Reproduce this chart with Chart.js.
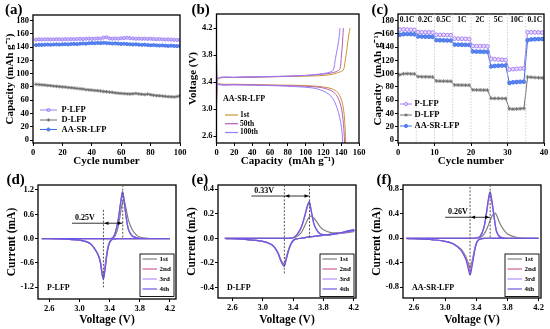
<!DOCTYPE html>
<html><head><meta charset="utf-8">
<script src="https://cdn.jsdelivr.net/npm/chart.js@4.4.0/dist/chart.umd.min.js"></script>
<style>
html,body{margin:0;padding:0;background:#fff;}
#wrap{position:relative;width:550px;height:329px;overflow:hidden;background:#fff;}
#wrap canvas{position:absolute;left:0;top:0;}
</style></head>
<body><div id="wrap">
<canvas id="ca" width="550" height="329"></canvas>
<canvas id="cb" width="550" height="329"></canvas>
<canvas id="cc" width="550" height="329"></canvas>
<canvas id="cd" width="550" height="329"></canvas>
<canvas id="ce" width="550" height="329"></canvas>
<canvas id="cf" width="550" height="329"></canvas>
</div>
<script>
// ---------------- DATA ----------------
const seriesNames = ['P-LFP', 'D-LFP', 'AA-SR-LFP'];
const cvCycleNames = ['1st', '2nd', '3rd', '4th'];
const bCycleNames = ['1st', '50th', '100th'];
const rateLabels = ['0.1C', '0.2C', '0.5C', '1C', '2C', '5C', '10C', '0.1C'];

// (a) cycling at fixed rate
const cyclesA = [2,4,6,8,10,12,14,16,18,20,22,24,26,28,30,32,34,36,38,40,42,44,46,48,50,52,54,56,58,60,62,64,66,68,70,72,74,76,78,80,82,84,86,88,90,92,94,96,98,100];
const aP = [151.5,151.8,151.6,151.9,152.0,151.7,151.9,152.1,152.0,151.8,152.2,152.0,152.3,152.1,152.4,152.6,152.3,152.8,153.0,152.6,152.9,153.2,153.0,154.5,155.0,153.4,152.9,153.2,153.0,153.5,153.8,154.3,153.6,153.2,152.8,153.0,152.7,152.9,152.5,152.8,152.4,152.1,152.3,151.9,151.6,151.8,151.4,151.2,151.0,150.8];
const aD = [84.0,83.6,83.2,82.9,82.3,82.0,81.4,81.0,80.6,80.1,79.8,79.2,78.9,78.3,77.8,77.4,76.9,76.0,75.6,75.3,74.7,74.4,73.9,73.2,72.9,72.3,71.8,71.2,70.6,70.3,70.0,69.6,69.4,69.8,70.2,69.5,69.0,68.6,69.2,68.4,67.6,67.0,66.8,66.3,65.8,65.4,65.2,64.9,65.6,66.6];
const aAA = [143.2,143.6,143.4,143.8,144.0,143.7,144.1,144.3,144.0,144.4,144.6,144.3,144.8,145.0,144.7,145.3,145.6,145.4,146.0,146.3,146.0,146.5,146.2,146.6,146.3,146.0,145.6,145.8,145.3,145.0,145.2,144.7,144.5,144.2,144.4,143.9,143.6,143.8,143.3,143.0,143.2,142.8,142.5,142.7,142.3,142.0,142.3,141.9,141.7,142.0];
const aXTicks = [0,20,40,60,80,100];
const aYTicks = [0,20,40,60,80,100,120,140,160,180];

// (b) charge / discharge profiles of AA-SR-LFP  [capacity, voltage]
const bCharge1 = [[0,2.97],[0.5,3.3],[2,3.45],[20,3.47],[60,3.48],[100,3.49],[120,3.5],[131,3.52],[138,3.55],[142.4,3.58],[144.3,3.7],[146.5,3.9],[148.5,4.1],[150,4.2]];
const bCharge50 = [[0,2.98],[0.5,3.32],[2,3.46],[20,3.47],[60,3.48],[100,3.5],[120,3.52],[130,3.54],[135,3.56],[138.7,3.6],[140,3.75],[141.3,3.95],[142.4,4.2]];
const bCharge100 = [[0,3.0],[0.5,3.33],[2,3.46],[20,3.475],[60,3.485],[100,3.5],[115,3.52],[125,3.54],[131,3.58],[133.5,3.75],[136,3.92],[137.8,4.08],[138.7,4.2]];
const bDis1 = [[0,3.87],[0.5,3.45],[2,3.38],[20,3.37],[60,3.36],[100,3.35],[120,3.33],[130,3.3],[136,3.25],[140,3.15],[142,3.05],[143.5,2.9],[144.5,2.7],[145,2.5]];
const bDis50 = [[0,3.8],[0.5,3.44],[2,3.37],[20,3.365],[60,3.355],[100,3.34],[118,3.32],[128,3.28],[134,3.22],[138,3.12],[140.5,3.0],[142,2.85],[143,2.7],[143.8,2.5]];
const bDis100 = [[0,3.75],[0.5,3.43],[2,3.365],[20,3.36],[60,3.35],[95,3.33],[110,3.31],[120,3.27],[128,3.2],[133,3.1],[137,2.95],[139.5,2.8],[141,2.65],[141.7,2.5]];
const bXTicks = [0,20,40,60,80,100,120,140,160];
const bYTicks = [2.6,3.0,3.4,3.8,4.2];

// (c) rate performance
const cyclesC = [0.5,1.5,2.5,3.5,4.5,5.5,6.5,7.5,8.5,9.5,10.5,11.5,12.5,13.5,14.5,15.5,16.5,17.5,18.5,19.5,20.5,21.5,22.5,23.5,24.5,25.5,26.5,27.5,28.5,29.5,30.5,31.5,32.5,33.5,34.5,35.5,36.5,37.5,38.5,39.5];
const cP = [166.5,166.8,166.5,166.2,165.9,162.8,162.6,162.4,162.3,162.1,158.6,158.5,158.4,158.2,158.0,152.9,152.8,152.6,152.5,152.3,141.8,141.6,141.5,141.4,141.2,122.3,121.8,121.4,121.0,120.6,106.2,106.8,107.2,107.6,108.0,162.3,162.4,162.3,162.2,162.0];
const cD = [98.5,99.8,100.0,99.8,99.6,95.6,95.4,95.3,95.2,95.0,89.0,88.8,88.7,88.6,88.5,83.0,82.9,82.8,82.7,82.6,75.6,75.5,75.4,75.3,75.2,62.8,62.7,62.7,62.6,62.6,47.0,46.6,46.8,47.2,47.6,95.0,94.6,94.2,93.9,93.6];
const cAA = [158.8,159.6,159.8,159.6,159.4,156.2,156.0,155.8,155.7,155.5,150.6,150.4,150.3,150.1,150.0,143.9,143.8,143.6,143.5,143.4,133.5,133.3,133.2,133.1,133.0,111.0,111.6,112.0,112.2,112.4,86.0,87.0,87.5,87.8,88.0,150.5,151.6,152.0,152.2,152.3];
const cRateCenters = [2.5,7.5,12.5,17.5,22.5,27.5,32.5,37.5];
const cRateBounds = [5,10,15,20,25,30,35];
const cXTicks = [0,10,20,30,40];
const cYTicks = [0,20,40,60,80,100,120,140,160,180];

// (d) CV of P-LFP : anodic sweep then cathodic sweep
const dVox = [2.5,2.8,3.1,3.3,3.4,3.44,3.47,3.5,3.52,3.54,3.555,3.57,3.585,3.6,3.62,3.65,3.7,3.76,3.8,3.9,4.0,4.2];
const dIox1 = [0,0,0,0,0,0.01,0.06,0.2,0.36,0.58,0.76,0.89,0.95,0.9,0.72,0.45,0.22,0.08,0.04,0.01,0,0];
const dIox2 = [0,0,0,0,0,0.02,0.11,0.32,0.52,0.79,0.98,1.1,1.02,0.8,0.52,0.23,0.07,0.02,0.01,0,0,0];
const dIox3 = [0,0,0,0,0,0.02,0.12,0.33,0.54,0.81,1.0,1.13,1.04,0.81,0.52,0.22,0.07,0.02,0.01,0,0,0];
const dIox4 = [0,0,0,0,0,0.02,0.12,0.34,0.55,0.82,1.02,1.16,1.05,0.82,0.52,0.22,0.06,0.02,0.01,0,0,0];
const dVred = [4.2,3.8,3.6,3.5,3.45,3.42,3.4,3.38,3.36,3.34,3.325,3.315,3.3,3.28,3.25,3.2,3.15,3.1,3.0,2.8,2.5];
const dIred1 = [0,0,0,0,-0.01,-0.03,-0.08,-0.18,-0.38,-0.65,-0.84,-0.9,-0.83,-0.58,-0.4,-0.24,-0.13,-0.08,-0.035,-0.01,0];
const dIred2 = [0,0,0,0,-0.01,-0.04,-0.09,-0.21,-0.43,-0.72,-0.91,-0.96,-0.87,-0.6,-0.41,-0.25,-0.13,-0.08,-0.035,-0.01,0];
const dIred3 = [0,0,0,0,-0.01,-0.04,-0.1,-0.22,-0.44,-0.74,-0.93,-0.98,-0.88,-0.61,-0.41,-0.25,-0.13,-0.08,-0.035,-0.01,0];
const dIred4 = [0,0,0,0,-0.01,-0.04,-0.1,-0.22,-0.45,-0.76,-0.95,-1.0,-0.89,-0.62,-0.42,-0.25,-0.14,-0.08,-0.035,-0.01,0];
const dPeaks = [3.318, 3.574];
const dGapLabel = '0.25V';
const dYTicks = [-1.2,-0.6,0.0,0.6,1.2];

// (e) CV of D-LFP
const eVox = [2.5,2.8,3.1,3.3,3.4,3.45,3.5,3.53,3.56,3.59,3.615,3.64,3.67,3.7,3.75,3.8,3.9,4.0,4.1,4.2];
const eIox1 = [0,0,0,0,0.003,0.015,0.04,0.07,0.11,0.15,0.175,0.18,0.168,0.145,0.1,0.07,0.046,0.045,0.05,0.062];
const eIox2 = [0,0,0,0,0.005,0.028,0.075,0.125,0.19,0.26,0.285,0.22,0.13,0.08,0.04,0.03,0.03,0.04,0.055,0.068];
const eIox3 = [0,0,0,0,0.005,0.03,0.078,0.13,0.195,0.265,0.292,0.222,0.13,0.08,0.04,0.03,0.03,0.04,0.056,0.07];
const eIox4 = [0,0,0,0,0.005,0.03,0.08,0.13,0.2,0.27,0.3,0.225,0.13,0.08,0.04,0.03,0.03,0.041,0.057,0.072];
const eVred = [4.2,4.0,3.8,3.6,3.5,3.44,3.4,3.37,3.34,3.31,3.285,3.26,3.23,3.2,3.15,3.1,3.0,2.8,2.5];
const eIred1 = [0.055,0.038,0.024,0.01,0.0,-0.005,-0.018,-0.045,-0.09,-0.155,-0.205,-0.2,-0.16,-0.115,-0.068,-0.045,-0.025,-0.01,0];
const eIred2 = [0.06,0.04,0.025,0.01,0.0,-0.005,-0.02,-0.05,-0.1,-0.168,-0.22,-0.208,-0.168,-0.12,-0.07,-0.045,-0.025,-0.01,0];
const eIred3 = [0.062,0.041,0.025,0.01,0.0,-0.005,-0.02,-0.05,-0.1,-0.17,-0.224,-0.21,-0.17,-0.12,-0.07,-0.046,-0.025,-0.01,0];
const eIred4 = [0.064,0.042,0.026,0.01,0.0,-0.005,-0.02,-0.05,-0.1,-0.172,-0.228,-0.212,-0.17,-0.12,-0.07,-0.046,-0.025,-0.01,0];
const ePeaks = [3.285, 3.617];
const eGapLabel = '0.33V';
const eYTicks = [-0.4,-0.2,0.0,0.2,0.4];

// (f) CV of AA-SR-LFP
const fVox = [2.5,2.8,3.1,3.3,3.4,3.45,3.5,3.53,3.55,3.565,3.578,3.59,3.605,3.62,3.64,3.66,3.7,3.75,3.8,3.9,4.0,4.2];
const fIox1 = [0,0,0,0,0.003,0.015,0.07,0.14,0.2,0.25,0.29,0.33,0.37,0.4,0.41,0.38,0.25,0.14,0.07,0.02,0.005,0];
const fIox2 = [0,0,0,0,0.005,0.03,0.18,0.39,0.56,0.67,0.7,0.65,0.54,0.42,0.24,0.11,0.025,0.008,0,0,0,0];
const fIox3 = [0,0,0,0,0.005,0.03,0.185,0.41,0.58,0.7,0.73,0.68,0.56,0.43,0.245,0.11,0.022,0.006,0,0,0,0];
const fIox4 = [0,0,0,0,0.005,0.03,0.19,0.42,0.6,0.72,0.76,0.7,0.58,0.44,0.25,0.11,0.02,0.005,0,0,0,0];
const fVred = [4.2,3.8,3.6,3.5,3.45,3.42,3.4,3.38,3.36,3.34,3.33,3.32,3.31,3.29,3.27,3.25,3.2,3.1,3.0,2.8,2.5];
const fIred1 = [0,0,0,0,-0.01,-0.035,-0.08,-0.17,-0.29,-0.41,-0.45,-0.47,-0.45,-0.38,-0.31,-0.26,-0.17,-0.085,-0.048,-0.02,0];
const fIred2 = [0,0,0,0,-0.01,-0.038,-0.085,-0.185,-0.31,-0.44,-0.5,-0.52,-0.5,-0.41,-0.33,-0.28,-0.18,-0.088,-0.05,-0.02,0];
const fIred3 = [0,0,0,0,-0.01,-0.04,-0.09,-0.195,-0.33,-0.47,-0.54,-0.56,-0.54,-0.44,-0.35,-0.29,-0.185,-0.09,-0.05,-0.02,0];
const fIred4 = [0,0,0,0,-0.01,-0.04,-0.09,-0.2,-0.35,-0.5,-0.57,-0.6,-0.57,-0.46,-0.36,-0.3,-0.19,-0.09,-0.05,-0.02,0];
const fPeaks = [3.32, 3.578];
const fGapLabel = '0.26V';
const fYTicks = [-0.8,-0.4,0.0,0.4,0.8];
const cvXTicks = [2.6,3.0,3.4,3.8,4.2];

// ---------------- STYLE ----------------
const FONT = "'Liberation Serif', 'Times New Roman', serif";
Chart.defaults.font.family = FONT;
Chart.defaults.font.weight = 'bold';
Chart.defaults.color = '#000';
const colP = '#9b7bf2', colD = '#6e6e6e', colAA = '#3f6ee8';
const bCols = ['#c9962f', '#b45cb8', '#9a7cf7'];
const cvCols = ['#808080', '#d0609a', '#b58cff', '#6a5ae0'];

function xy(xs, ys) { return xs.map((x, i) => ({x: x, y: ys[i]})); }
function pairs(p) { return p.map(v => ({x: v[0], y: v[1]})); }
function f1(v) { return Number(v).toFixed(1); }
function f0(v) { return String(Math.round(v)); }

function scaleCfg(isX, o) {
  return {
    type: 'linear', position: isX ? 'bottom' : 'left',
    min: o.min, max: o.max,
    afterBuildTicks: s => { s.ticks = o.ticks.map(v => ({value: v})); },
    afterFit: s => { if (isX) s.height = o.size; else s.width = o.size; },
    ticks: {autoSkip: false, maxRotation: 0, minRotation: 0, padding: isX ? 1.5 : 1, color: '#000',
      font: {size: 8.5, weight: 'bold', family: FONT}, callback: v => o.fmt(v)},
    grid: {display: true, drawOnChartArea: false, drawTicks: true, tickLength: 3, tickWidth: 1, tickColor: '#000', color: '#000'},
    border: {display: false},
    title: {display: true, text: o.title, color: '#000', font: {size: o.tfs, weight: 'bold', family: FONT}, padding: {top: 0, bottom: 0}}
  };
}

function font(sz) { return 'bold ' + sz + 'px ' + FONT; }
function txt(ctx, s, x, y, sz, align, base, color) {
  ctx.save(); ctx.font = font(sz); ctx.fillStyle = color || '#000';
  ctx.textAlign = align || 'left'; ctx.textBaseline = base || 'middle';
  ctx.fillText(s, x, y); ctx.restore();
}
function hline(ctx, x0, x1, y, color, w) {
  ctx.save(); ctx.strokeStyle = color; ctx.lineWidth = w || 1;
  ctx.beginPath(); ctx.moveTo(x0, y); ctx.lineTo(x1, y); ctx.stroke(); ctx.restore();
}
function mark(ctx, style, x, y, r, stroke, fill) {
  ctx.save(); ctx.strokeStyle = stroke; ctx.fillStyle = fill; ctx.lineWidth = 0.9;
  ctx.beginPath();
  if (style === 'star') {
    for (let k = 0; k < 4; k++) { const a = k * Math.PI / 4; ctx.moveTo(x + Math.cos(a) * r, y + Math.sin(a) * r); ctx.lineTo(x - Math.cos(a) * r, y - Math.sin(a) * r); }
    ctx.stroke();
  } else { ctx.arc(x, y, r, 0, Math.PI * 2); ctx.fill(); ctx.stroke(); }
  ctx.restore();
}
function frame(c) {
  const a = c.chartArea, ctx = c.ctx;
  ctx.save(); ctx.strokeStyle = '#000'; ctx.lineWidth = 1.3;
  ctx.strokeRect(a.left, a.top, a.right - a.left, a.bottom - a.top); ctx.restore();
}

function makePanel(id, p) {
  const yLeft = p.yTitleX - 0.6 * p.ytfs;
  const xBottom = p.xTitleY + 0.6 * p.xtfs;
  return new Chart(document.getElementById(id), {
    type: 'line',
    data: {datasets: p.datasets},
    options: {
      responsive: false, animation: false, devicePixelRatio: 1,
      layout: {padding: {left: yLeft, top: p.T, right: 550 - p.R, bottom: 329 - xBottom}},
      plugins: {legend: {display: false}, tooltip: {enabled: false}, title: {display: false}},
      scales: {
        x: scaleCfg(true, Object.assign({}, p.x, {size: xBottom - p.B, tfs: p.xtfs})),
        y: scaleCfg(false, Object.assign({}, p.y, {size: p.L - yLeft, tfs: p.ytfs}))
      }
    },
    plugins: [{id: 'deco_' + id, afterDraw: c => {
      frame(c);
      if (p.deco) p.deco(c);
      txt(c.ctx, p.letter[0], p.letter[1], p.letter[2], 15, 'left', 'alphabetic');
    }}]
  });
}

// ---------------- (a) ----------------
makePanel('ca', {
  L: 33, T: 15, R: 180, B: 143, yTitleX: 10, ytfs: 11, xTitleY: 161, xtfs: 11,
  letter: ['(a)', 5, 14],
  x: {min: 0, max: 100, ticks: aXTicks, fmt: f0, title: 'Cycle number'},
  y: {min: -4.5, max: 188.6, ticks: aYTicks, fmt: f0, title: 'Capacity (mAh g\u207B\u00B9)'},
  datasets: [
    {label: seriesNames[1], data: xy(cyclesA, aD), borderColor: colD, backgroundColor: colD, borderWidth: 1, pointStyle: 'star', pointRadius: 1.8, pointBorderWidth: 0.8, tension: 0},
    {label: seriesNames[2], data: xy(cyclesA, aAA), borderColor: colAA, backgroundColor: '#5b86f0', borderWidth: 1, pointStyle: 'circle', pointRadius: 1.6, pointBorderWidth: 0.8, tension: 0},
    {label: seriesNames[0], data: xy(cyclesA, aP), borderColor: colP, backgroundColor: '#cbb8ff', borderWidth: 1, pointStyle: 'circle', pointRadius: 1.6, pointBorderWidth: 0.8, tension: 0}
  ],
  deco: c => {
    const ctx = c.ctx, ys = [110, 120, 129.5];
    const st = [['circle', colP, '#cbb8ff'], ['star', colD, colD], ['circle', colAA, '#5b86f0']];
    seriesNames.forEach((n, i) => {
      hline(ctx, 40, 57, ys[i], st[i][1], 1);
      mark(ctx, st[i][0], 48.5, ys[i], 1.6, st[i][1], st[i][2]);
      txt(ctx, n, 61.5, ys[i], 8.5);
    });
  }
});

// ---------------- (b) ----------------
function bSet(label, pts, col, ord) {
  return {label: label, data: pairs(pts), borderColor: col, borderWidth: 1, pointRadius: 0, tension: 0.3, order: ord};
}
makePanel('cb', {
  L: 216.5, T: 14, R: 359, B: 143, yTitleX: 193, ytfs: 11, xTitleY: 161, xtfs: 11,
  letter: ['(b)', 191.5, 14],
  x: {min: 0, max: 160, ticks: bXTicks, fmt: f0, title: 'Capacity  (mAh g\u207B\u00B9)'},
  y: {min: 2.5, max: 4.41, ticks: bYTicks, fmt: f1, title: 'Voltage (V)'},
  datasets: [
    bSet(bCycleNames[0] + ' charge', bCharge1, bCols[0], 2),
    bSet(bCycleNames[0] + ' discharge', bDis1, bCols[0], 2),
    bSet(bCycleNames[1] + ' charge', bCharge50, bCols[1], 1),
    bSet(bCycleNames[1] + ' discharge', bDis50, bCols[1], 1),
    bSet(bCycleNames[2] + ' charge', bCharge100, bCols[2], 0),
    bSet(bCycleNames[2] + ' discharge', bDis100, bCols[2], 0)
  ],
  deco: c => {
    const ctx = c.ctx;
    txt(ctx, seriesNames[2], 223, 98.5, 8);
    const ys = [115, 123.7, 132.5];
    bCycleNames.forEach((n, i) => { hline(ctx, 225, 238, ys[i], bCols[i], 1.2); txt(ctx, n, 240, ys[i], 7.5); });
  }
});

// ---------------- (c) ----------------
makePanel('cc', {
  L: 398, T: 14, R: 544, B: 143, yTitleX: 377.7, ytfs: 11, xTitleY: 161, xtfs: 11,
  letter: ['(c)', 371.5, 14],
  x: {min: 0, max: 40, ticks: cXTicks, fmt: f0, title: 'Cycle number'},
  y: {min: -4.5, max: 190, ticks: cYTicks, fmt: f0, title: 'Capacity  (mAh g\u207B\u00B9)'},
  datasets: [
    {label: seriesNames[1], data: xy(cyclesC, cD), borderColor: colD, backgroundColor: colD, borderWidth: 1, pointStyle: 'star', pointRadius: 2, pointBorderWidth: 0.8, tension: 0},
    {label: seriesNames[2], data: xy(cyclesC, cAA), borderColor: colAA, backgroundColor: '#5b86f0', borderWidth: 1, pointStyle: 'circle', pointRadius: 1.9, pointBorderWidth: 0.8, tension: 0},
    {label: seriesNames[0], data: xy(cyclesC, cP), borderColor: '#a57cf0', backgroundColor: '#e6dcff', borderWidth: 1, pointStyle: 'circle', pointRadius: 1.9, pointBorderWidth: 0.9, tension: 0}
  ],
  deco: c => {
    const ctx = c.ctx, a = c.chartArea, sx = c.scales.x;
    ctx.save(); ctx.strokeStyle = '#c4c4c4'; ctx.lineWidth = 0.8; ctx.setLineDash([1.5, 1.5]);
    cRateBounds.forEach(v => { const X = sx.getPixelForValue(v); ctx.beginPath(); ctx.moveTo(X, a.top); ctx.lineTo(X, a.bottom); ctx.stroke(); });
    ctx.restore();
    rateLabels.forEach((l, i) => txt(ctx, l, sx.getPixelForValue(cRateCenters[i]), a.top + 6.5, 7.5, 'center'));
    const ys = [104, 115, 126];
    const st = [['circle', '#a57cf0', '#e6dcff'], ['star', colD, colD], ['circle', colAA, '#5b86f0']];
    seriesNames.forEach((n, i) => {
      hline(ctx, 400, 412, ys[i], st[i][1], 1);
      mark(ctx, st[i][0], 406, ys[i], 1.6, st[i][1], st[i][2]);
      txt(ctx, n, 414.5, ys[i], 8.5);
    });
  }
});

// ---------------- CV panels ----------------
function cvSets(vox, ioxs, vred, ireds) {
  return ioxs.map((iox, k) => ({
    label: cvCycleNames[k],
    data: xy(vox, iox).concat(xy(vred, ireds[k])),
    borderColor: cvCols[k], borderWidth: 1.2, pointRadius: 0, tension: 0.25,
    order: ioxs.length - 1 - k
  }));
}
function cvDeco(peaks, gapLabel, leftTop, leftBottom, annX, annY, sample) {
  return c => {
    const ctx = c.ctx, a = c.chartArea, sx = c.scales.x, sy = c.scales.y;
    const xL = sx.getPixelForValue(peaks[0]), xR = sx.getPixelForValue(peaks[1]);
    ctx.save(); ctx.strokeStyle = '#555'; ctx.lineWidth = 1; ctx.setLineDash([2, 1.6]);
    ctx.beginPath(); ctx.moveTo(xL, sy.getPixelForValue(leftTop)); ctx.lineTo(xL, sy.getPixelForValue(leftBottom)); ctx.stroke();
    ctx.beginPath(); ctx.moveTo(xR, a.top); ctx.lineTo(xR, sy.getPixelForValue(0)); ctx.stroke();
    ctx.restore();
    const yA = sy.getPixelForValue(annY), x0 = sx.getPixelForValue(annX);
    hline(ctx, x0, xR, yA, '#000', 0.8);
    ctx.save(); ctx.fillStyle = '#000';
    ctx.beginPath(); ctx.moveTo(xL + 1, yA); ctx.lineTo(xL + 5, yA - 1.8); ctx.lineTo(xL + 5, yA + 1.8); ctx.closePath(); ctx.fill();
    ctx.beginPath(); ctx.moveTo(xR - 1, yA); ctx.lineTo(xR - 5, yA - 1.8); ctx.lineTo(xR - 5, yA + 1.8); ctx.closePath(); ctx.fill();
    ctx.restore();
    txt(ctx, gapLabel, x0 + 3, yA - 1.5, 8, 'left', 'bottom');
    // legend box
    const bl = a.right - 36, br = a.right - 2, bt = 254, bb = 296.5;
    ctx.save(); ctx.strokeStyle = '#000'; ctx.lineWidth = 0.9; ctx.strokeRect(bl, bt, br - bl, bb - bt); ctx.restore();
    const ys = [259, 269, 279, 289];
    cvCycleNames.forEach((n, i) => { hline(ctx, bl + 2.5, bl + 17, ys[i], cvCols[i], 1.2); txt(ctx, n, bl + 19.5, ys[i], 7); });
    txt(ctx, sample, a.left + 9, 287.5, 8);
  };
}

makePanel('cd', {
  L: 38, T: 185, R: 176, B: 299, yTitleX: 11.7, ytfs: 11.5, xTitleY: 320.5, xtfs: 11.5,
  letter: ['(d)', 6.5, 184],
  x: {min: 2.45, max: 4.28, ticks: cvXTicks, fmt: f1, title: 'Voltage (V)'},
  y: {min: -1.489, max: 1.323, ticks: dYTicks, fmt: f1, title: 'Current (mA)'},
  datasets: cvSets(dVox, [dIox1, dIox2, dIox3, dIox4], dVred, [dIred1, dIred2, dIred3, dIred4]),
  deco: cvDeco(dPeaks, dGapLabel, 0.71, -1.2, 2.9, 0.38, seriesNames[0])
});
makePanel('ce', {
  L: 218, T: 185, R: 356, B: 298, yTitleX: 191.7, ytfs: 11.5, xTitleY: 320.5, xtfs: 11.5,
  letter: ['(e)', 191.5, 184],
  x: {min: 2.41, max: 4.23, ticks: cvXTicks, fmt: f1, title: 'Voltage (V)'},
  y: {min: -0.487, max: 0.435, ticks: eYTicks, fmt: f1, title: 'Current (mA)'},
  datasets: cvSets(eVox, [eIox1, eIox2, eIox3, eIox4], eVred, [eIred1, eIred2, eIred3, eIred4]),
  deco: cvDeco(ePeaks, eGapLabel, 0.435, -0.3, 2.85, 0.345, seriesNames[1])
});
makePanel('cf', {
  L: 403, T: 185, R: 541, B: 298, yTitleX: 376.7, ytfs: 11.5, xTitleY: 320.5, xtfs: 11.5,
  letter: ['(f)', 376.5, 184],
  x: {min: 2.46, max: 4.23, ticks: cvXTicks, fmt: f1, title: 'Voltage (V)'},
  y: {min: -0.975, max: 0.87, ticks: fYTicks, fmt: f1, title: 'Current (mA)'},
  datasets: cvSets(fVox, [fIox1, fIox2, fIox3, fIox4], fVred, [fIred1, fIred2, fIred3, fIred4]),
  deco: cvDeco(fPeaks, fGapLabel, 0.84, -0.6, 3.0, 0.343, seriesNames[2])
});
</script>
</body></html>
